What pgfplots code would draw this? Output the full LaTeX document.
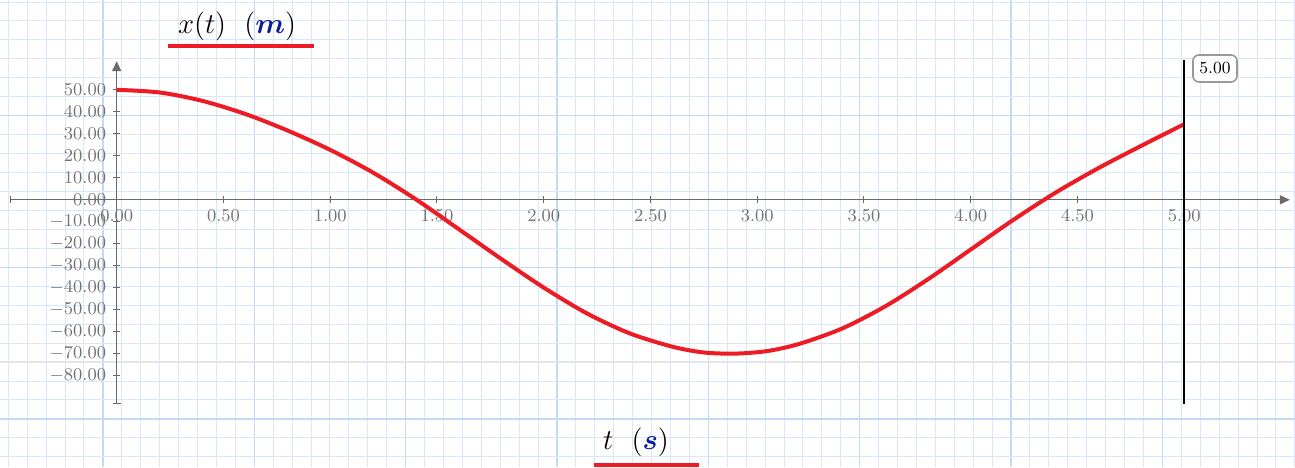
\documentclass[border=0pt]{standalone}
\usepackage{pgfplots}
\pgfplotsset{compat=1.18}
\usepackage{amsmath,bm}
\usetikzlibrary{arrows.meta}

\definecolor{curvered}{HTML}{ED1C24}
\definecolor{gridminor}{HTML}{D9E8F8}
\definecolor{gridmajor}{HTML}{C3DAF4}
\definecolor{gridgrey}{HTML}{E2E5E9}
\definecolor{axisgray}{HTML}{6A6A6A}
\definecolor{labelgray}{HTML}{737373}
\definecolor{unitblue}{HTML}{0D1B96}

\begin{document}
\begin{tikzpicture}
% paper background, 1 px = 0.5pt, y downwards
\begin{scope}[x=0.5pt,y=-0.5pt]
  \path[use as bounding box, fill=white] (0,0) rectangle (1295,467);
  \foreach \i in {0,...,68}
    \draw[gridminor,line width=0.5pt] ({8.3+18.92*\i},0) -- ({8.3+18.92*\i},467);
  \foreach \i in {5,13,...,68}
    \draw[gridmajor,line width=0.6pt] ({8.3+18.92*\i},0) -- ({8.3+18.92*\i},467);
  \foreach \j in {0,...,24}
    \draw[gridminor,line width=0.5pt] (0,{2+18.95*\j}) -- (1295,{2+18.95*\j});
  \foreach \j in {6,14,22}
    \draw[gridmajor,line width=0.6pt] (0,{2+18.95*\j}) -- (1295,{2+18.95*\j});
  \foreach \j in {18,19}
    \draw[gridgrey,line width=0.6pt] (0,{2+18.95*\j}) -- (1295,{2+18.95*\j});
  % titles with red underlines
  \node[font=\fontsize{15}{18}\selectfont] at (237,26) {$x(t)\ \ (\textcolor{unitblue}{\bm{m}})$};
  \draw[curvered,line width=2pt] (168,46.3) -- (314,46.3);
  \node[font=\fontsize{15}{18}\selectfont] at (636,442) {$t\ \ (\textcolor{unitblue}{\bm{s}})$};
  \draw[curvered,line width=2pt] (594,465) -- (699,465);
\end{scope}

\begin{axis}[
  at={(58.35pt,-99.9pt)}, anchor=origin,
  x=106.75pt, y=1.1pt,
  xmin=-0.5, xmax=5.495, ymin=-92.7, ymax=63,
  axis lines=middle,
  hide obscured x ticks=false, hide obscured y ticks=false,
  clip=false,
  axis line style={axisgray, line width=0.6pt},
  every inner x axis line/.append style={arrows={Bar[width=3.5pt]-Triangle[length=5pt,width=4.5pt]}},
  every inner y axis line/.append style={arrows={Bar[width=4pt]-Triangle[length=5pt,width=4.5pt]}},
  xtick={0,0.5,...,5}, ytick={-80,-70,...,50},
  tick align=center, major tick length=3.5pt,
  tick style={axisgray, line width=0.5pt},
  ticklabel style={font=\fontsize{8.8}{10}\selectfont, text=labelgray},
  xticklabel style={/pgf/number format/.cd, fixed, fixed zerofill, precision=2},
  yticklabel style={/pgf/number format/.cd, fixed, fixed zerofill, precision=2},
]
\addplot[curvered, line width=2pt, smooth] coordinates {
  (0,50) (0.2,48.8) (0.4,45.0) (0.6,39.1) (0.8,31.5) (1.0,22.7)
  (1.2,12.4) (1.4,0.3) (1.6,-13.2) (1.8,-26.8) (2.0,-39.9) (2.2,-51.5)
  (2.4,-60.6) (2.6,-66.7) (2.75,-69.4) (2.9,-69.9) (3.05,-68.7)
  (3.2,-65.4) (3.4,-58.4) (3.6,-48.4) (3.8,-36.1) (4.0,-22.6)
  (4.2,-9.1) (4.4,3.4) (4.6,14.5) (4.8,24.6) (5.0,34.4)
};
\addplot[black, line width=1.2pt] coordinates {(5,-92.8) (5,63.5)};
\node[draw=gray!80, line width=0.8pt, rounded corners=3pt, fill=white,
      minimum width=22pt, minimum height=13.5pt, inner sep=0pt,
      font=\fontsize{8.5}{10}\selectfont] at (axis cs:5.144,59.7) {5.00};
\end{axis}
\end{tikzpicture}
\end{document}
